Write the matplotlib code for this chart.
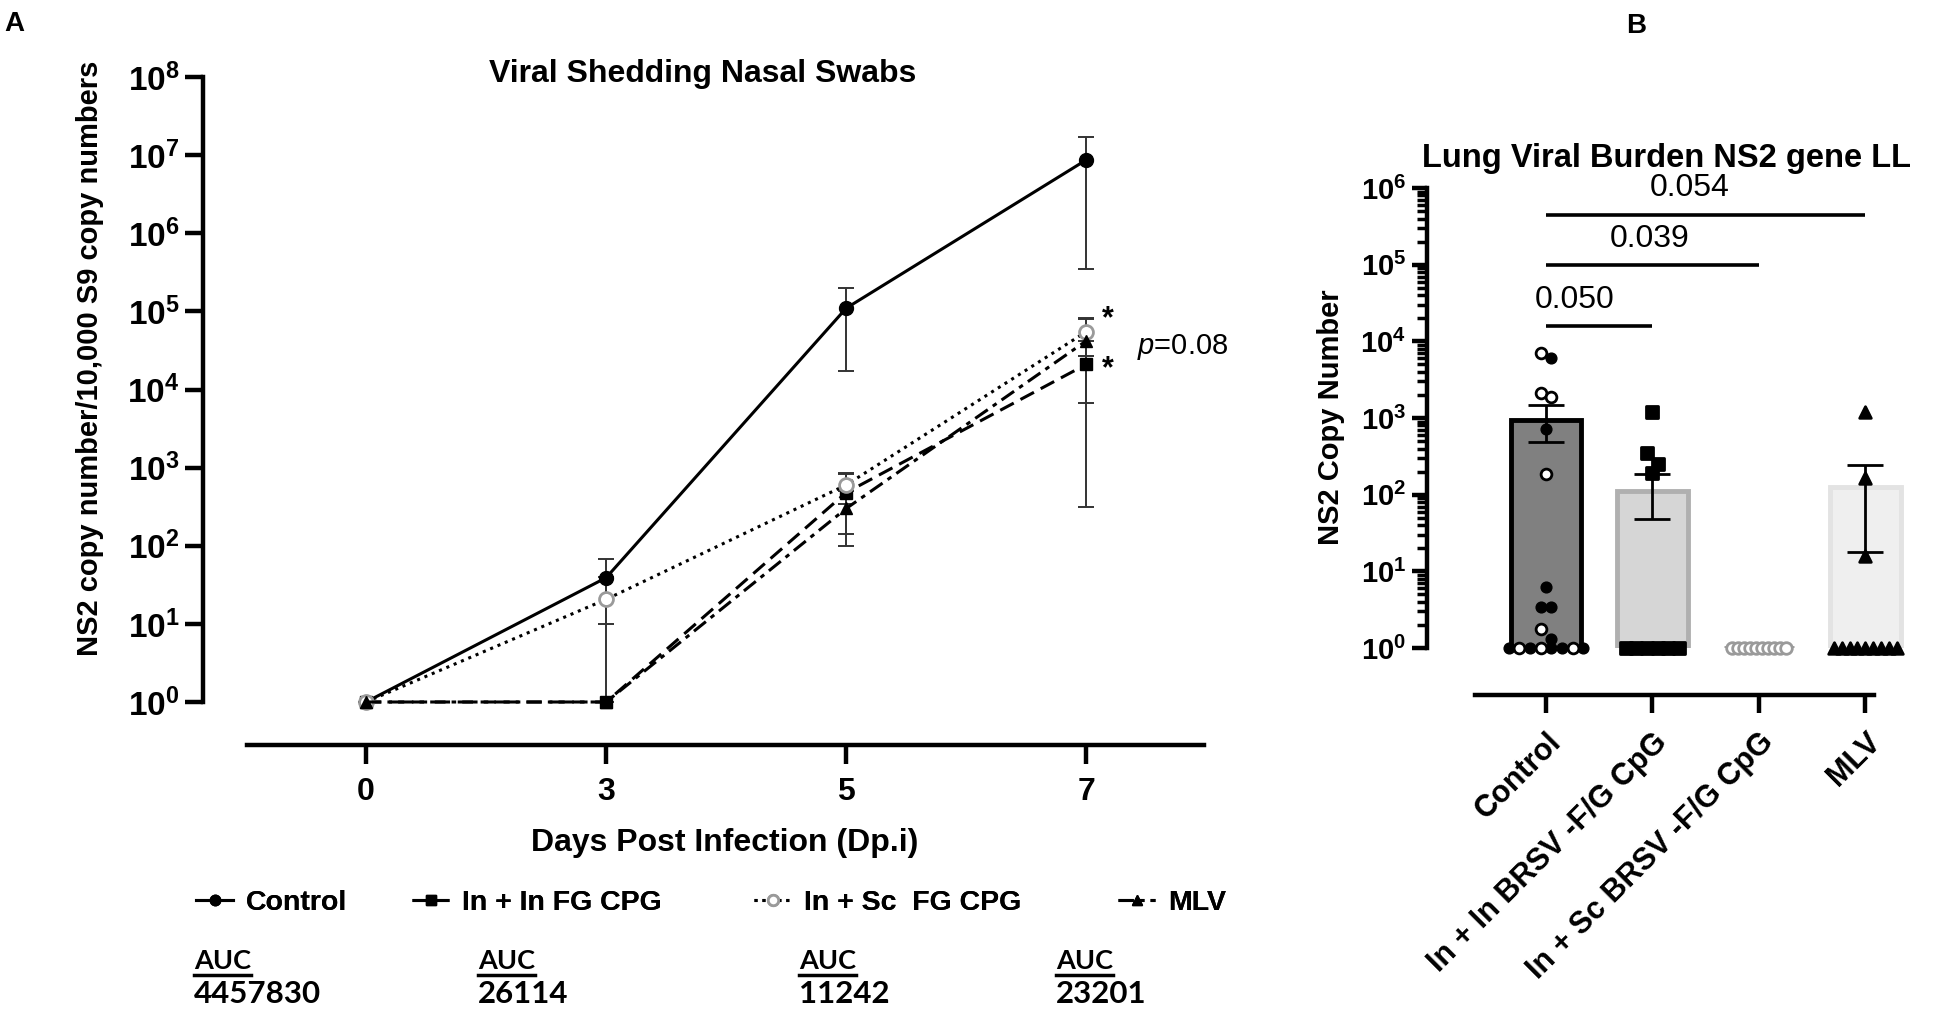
import numpy as np
import matplotlib
matplotlib.use('Agg')
import matplotlib.pyplot as plt
from matplotlib.lines import Line2D
from matplotlib.ticker import LogLocator, NullFormatter, FixedLocator

plt.rcParams['font.family'] = ['Liberation Sans', 'DejaVu Sans']
plt.rcParams['mathtext.fontset'] = 'custom'
plt.rcParams['mathtext.rm'] = 'Liberation Sans'
plt.rcParams['mathtext.bf'] = 'Liberation Sans:bold'
plt.rcParams['mathtext.it'] = 'Liberation Sans:italic'

# ---- panel A data (nasal swabs) ----
days = ['0', '3', '5', '7']
ctrl_mean = [1, 39, 1.1e5, 8.7e6]
ctrl_lo = [1, 10, 1.7e4, 3.5e5]
ctrl_hi = [1, 68, 2.0e5, 1.7e7]
inin_mean = [1, 1, 480, 2.1e4]
inin_lo = [1, 1, 140, 310]
inin_hi = [1, 1, 820, 4.2e4]
insc_mean = [1, 20.6, 600, 5.5e4]
insc_lo = [1, 0.5, 340, 2.7e4]
insc_hi = [1, 40, 860, 8.3e4]
mlv_mean = [1, 1, 300, 4.2e4]
mlv_lo = [1, 1, 100, 6700]
mlv_hi = [1, 1, 500, 7.9e4]
legend_labels = ['Control', 'In + In FG CPG', 'In + Sc  FG CPG', 'MLV']
auc_values = ['4457830', '26114', '11242', '23201']

# ---- panel B data (lung) ----
groups = ['Control', 'In + In BRSV -F/G CpG', 'In + Sc BRSV -F/G CpG', 'MLV']
bar_mean = [940, 110, 1, 125]
bar_lo = [490, 48, 1, 18]
bar_hi = [1480, 186, 1, 245]
ctrl_pts = [7000, 6000, 2100, 1870, 720, 185, 6.3, 3.4, 3.4, 1.77, 1.3,
            1, 1, 1, 1, 1, 1, 1, 1]
ctrl_open = [1, 0, 1, 1, 0, 1, 0, 0, 0, 1, 0, 0, 1, 0, 1, 0, 0, 1, 0]
inin_pts = [1200, 350, 250, 190, 1, 1, 1, 1, 1, 1]
insc_pts = [1, 1, 1, 1, 1, 1, 1, 1, 1, 1]
mlv_pts = [1200, 165, 16, 1, 1, 1, 1, 1, 1, 1, 1, 1]
sig_pairs = [(0, 1), (0, 2), (0, 3)]
sig_text = ['0.050', '0.039', '0.054']
sig_height = [1.6e4, 1.0e5, 4.5e5]

W, H = 1937, 1010
fig = plt.figure(figsize=(W / 100, H / 100), dpi=100)


def swarm(vals, width=0.62, tol=0.16, step=0.1):
    # spread points of similar value side by side
    logs = np.log10(vals)
    order = np.argsort(-logs, kind='stable')
    offs = np.zeros(len(vals))
    i = 0
    while i < len(order):
        j = i
        while j + 1 < len(order) and logs[order[i]] - logs[order[j + 1]] < tol:
            j += 1
        n = j - i + 1
        s = step if n < 2 else min(step, width / (n - 1))
        for k in range(n):
            offs[order[i + k]] = (k - (n - 1) / 2) * s
        i = j + 1
    return offs


def prism_axes(ax, drop, bounds):
    for s in ['top', 'right']:
        ax.spines[s].set_visible(False)
    ax.spines['left'].set_linewidth(3.2)
    ax.spines['bottom'].set_linewidth(3.2)
    ax.spines['bottom'].set_position(('outward', drop))
    ax.spines['bottom'].set_bounds(*bounds)


# ================= Panel A =================
axA = fig.add_axes([203 / W, 1 - 702 / H, 1001 / W, 625 / H])
axA.set_yscale('log')
prism_axes(axA, 31, (-0.496, 3.49))
x = np.arange(len(days))
series = [
    (ctrl_mean, ctrl_lo, ctrl_hi, dict(color='black', ls='-', marker='o', mfc='black', mec='black', ms=10)),
    (inin_mean, inin_lo, inin_hi, dict(color='black', ls=(0, (5, 2.5)), marker='s', mfc='black', mec='black', ms=9)),
    (insc_mean, insc_lo, insc_hi, dict(color='black', ls=(0, (1, 1.6)), marker='o', mfc='white', mec='#9a9a9a', ms=10, mew=2)),
    (mlv_mean, mlv_lo, mlv_hi, dict(color='black', ls=(0, (5, 2, 1.5, 2)), marker='^', mfc='black', mec='black', ms=9)),
]
handles = []
for m, lo, hi, st in series:
    m = np.array(m, float)
    yerr = [m - np.array(lo, float), np.array(hi, float) - m]
    axA.errorbar(x, m, yerr=yerr, fmt='none', ecolor='#333333', elinewidth=1.4,
                 capsize=6, capthick=1.4)
    h, = axA.plot(x, m, lw=2.2, clip_on=False, zorder=3, **st)
    handles.append(h)

axA.set_ylim(1, 1e8)
axA.set_xlim(-0.679, 3.49)
axA.yaxis.set_major_locator(FixedLocator([10.0 ** k for k in range(9)]))
axA.yaxis.set_minor_locator(FixedLocator([]))
axA.set_yticklabels([r'$\mathbf{10^{%d}}$' % k for k in range(9)], fontsize=24)
axA.set_xticks(x)
axA.set_xticklabels(days, fontsize=23, fontweight='bold')
axA.tick_params(axis='y', length=13, width=3.2, pad=4)
axA.tick_params(axis='x', length=14, width=3.2, pad=9)
axA.set_xlabel('Days Post Infection (Dp.i)', fontsize=23, fontweight='bold')
axA.xaxis.set_label_coords((725 - 203) / 1001, -(843 - 702) / 625)
axA.xaxis.label.set_va('center')
axA.set_ylabel('NS2 copy number/10,000 S9 copy numbers', fontsize=21, fontweight='bold')
axA.yaxis.set_label_coords(-(203 - 104) / 1001, (702 - 358) / 625)

axA.text(3.09, 10 ** 4.9, '*', fontsize=22, fontweight='bold', ha='center', va='center')
axA.text(3.09, 10 ** 4.26, '*', fontsize=22, fontweight='bold', ha='center', va='center')
axA.text(3.21, 10 ** 4.55, r'$p$=0.08', fontsize=21, ha='left', va='center')

fig.text(703 / W, 1 - 74 / H, 'Viral Shedding Nasal Swabs', fontsize=23, fontweight='bold',
         ha='center', va='center')
fig.text(4 / W, 1 - 24 / H, 'A', fontsize=20, fontweight='bold', ha='left', va='center')

# legend, one entry per slot as in the original layout
leg_x = [196, 412, 754, 1118]
for h, lab, lx in zip(handles, legend_labels, leg_x):
    lg = fig.legend([h], [lab], loc='center left', bbox_to_anchor=(lx / W, 1 - 903 / H),
                    frameon=False, handlelength=1.3, handletextpad=0.45, borderpad=0,
                    borderaxespad=0, prop=dict(size=20.5, weight='bold'), markerscale=0.75)
    fig.add_artist(lg)

auc_x = [194, 478, 799, 1056]
auc_titles = []
for ax_px, v in zip(auc_x, auc_values):
    t = fig.text(ax_px / W, 1 - 961 / H, 'AUC', fontsize=19.5, fontweight='bold',
                 family=['Lato', 'DejaVu Sans'], ha='left', va='center')
    auc_titles.append(t)
    fig.text(ax_px / W, 1 - 994 / H, v, fontsize=22.5, fontweight='bold',
             family=['Lato', 'DejaVu Sans'], ha='left', va='center')

# ================= Panel B =================
axB = fig.add_axes([1427 / W, 1 - 648 / H, 478 / W, 460 / H])
axB.set_yscale('log')
prism_axes(axB, 34, (-0.67, 3.08))
xb = np.arange(len(groups))
fills = ['#808080', '#d6d6d6', '#bdbdbd', '#efefef']
edges = ['black', '#b0b0b0', '#9a9a9a', '#e3e3e3']
bm = np.array(bar_mean, float)
axB.bar(xb, bm - 1, bottom=1, width=0.66, color=fills, edgecolor=edges, linewidth=3.5, zorder=1)
err = [bm - np.array(bar_lo, float), np.array(bar_hi, float) - bm]
has_err = [0, 1, 3]
axB.errorbar(xb[has_err], bm[has_err], yerr=[err[0][has_err], err[1][has_err]], fmt='none',
             ecolor='black', elinewidth=2, capsize=13, capthick=2, zorder=4)

# individual animals
cp = np.array(ctrl_pts, float)
co = np.array(ctrl_open, bool)
off = swarm(cp, width=0.7)
axB.scatter(off[~co], cp[~co], s=60, marker='o', color='black', zorder=3, clip_on=False)
axB.scatter(off[co], cp[co], s=60, marker='o', facecolor='white', edgecolor='black',
            linewidths=2, zorder=3, clip_on=False)
for gi, pts, mk, fc, ec, wd in [(1, inin_pts, 's', 'black', 'black', 0.55),
                                (2, insc_pts, 'o', 'white', '#9a9a9a', 0.5),
                                (3, mlv_pts, '^', 'black', 'black', 0.6)]:
    p = np.array(pts, float)
    axB.scatter(gi + swarm(p, width=wd), p, s=70, marker=mk, facecolor=fc, edgecolor=ec,
                linewidths=2, zorder=3, clip_on=False)

for (a, b), txt, h, tx in zip(sig_pairs, sig_text, sig_height, [0.27, 0.97, 1.35]):
    axB.plot([a, b], [h, h], color='black', lw=2.6, solid_capstyle='butt', zorder=5)
    axB.annotate(txt, (tx, h), xytext=(0, 8), textcoords='offset points', ha='center',
                 va='bottom', fontsize=23)

axB.set_ylim(1, 1e6)
axB.set_xlim(-1.117, 3.371)
axB.yaxis.set_major_locator(FixedLocator([10.0 ** k for k in range(7)]))
axB.yaxis.set_minor_locator(LogLocator(base=10, subs=np.arange(2, 10), numticks=20))
axB.yaxis.set_minor_formatter(NullFormatter())
axB.set_yticklabels([r'$\mathbf{10^{%d}}$' % k for k in range(7)], fontsize=21)
axB.set_xticks(xb)
axB.set_xticklabels(groups, rotation=45, ha='right', rotation_mode='anchor',
                    fontsize=22, fontweight='bold')
axB.tick_params(axis='y', which='major', length=11, width=3.2, pad=4)
axB.tick_params(axis='y', which='minor', length=7, width=2.5)
axB.tick_params(axis='x', length=13, width=3.2, pad=10)
axB.set_ylabel('NS2 Copy Number', fontsize=21, fontweight='bold')
axB.yaxis.set_label_coords(-(1427 - 1345) / 478, (648 - 417) / 460)

fig.text(1666 / W, 1 - 158 / H, 'Lung Viral Burden NS2 gene LL', fontsize=23.5,
         fontweight='bold', ha='center', va='center')
fig.text(1626 / W, 1 - 26 / H, 'B', fontsize=20, fontweight='bold', ha='left', va='center')

# underline the AUC headings
fig.canvas.draw()
r = fig.canvas.get_renderer()
for t in auc_titles:
    bb = t.get_window_extent(r)
    y = (bb.y0 - 2) / H
    fig.add_artist(Line2D([bb.x0 / W, bb.x1 / W], [y, y], color='black', lw=2.5))

fig.savefig('out.png', dpi=100)
